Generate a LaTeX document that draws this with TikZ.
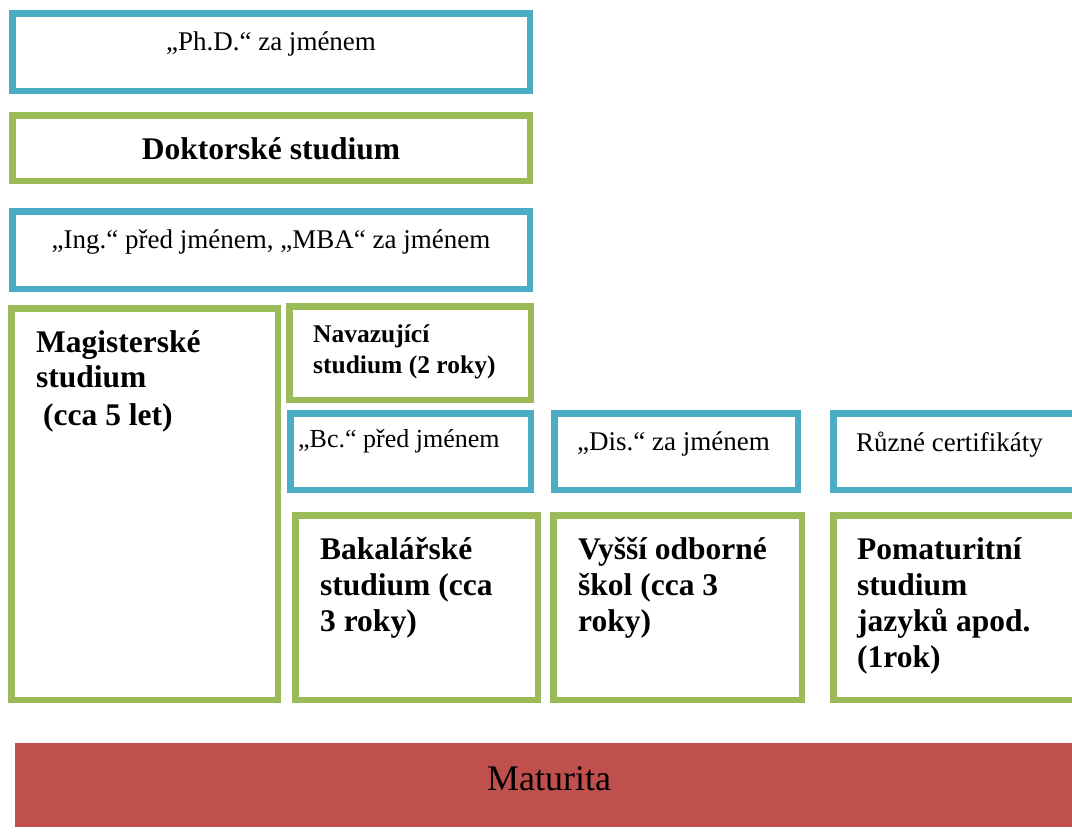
\documentclass[tikz,border=0pt]{standalone}
\usepackage{fontspec}
\setmainfont{Liberation Serif}
\definecolor{aqua}{HTML}{4BACC6}
\definecolor{olivegr}{HTML}{9BBB59}
\definecolor{brick}{HTML}{C0504D}
\tikzset{
  bluebox/.style={draw=aqua,line width=6.5pt},
  greenbox/.style={draw=olivegr,line width=6.5pt},
  regtxt/.style={font=\fontsize{27}{32}\selectfont,inner sep=0pt},
  smalltxt/.style={font=\fontsize{26}{31}\selectfont,inner sep=0pt},
  bigtxt/.style={font=\fontsize{31.5}{36}\selectfont\bfseries,inner sep=0pt,anchor=base west},
  midtxt/.style={font=\fontsize{25.5}{30}\selectfont\bfseries,inner sep=0pt,anchor=base west},
}
\begin{document}
\begin{tikzpicture}[x=1pt,y=-1pt]
\useasboundingbox (0,0) rectangle (1072,831);
\clip (0,0) rectangle (1072,831);
\fill[white] (0,0) rectangle (1072,831);
% boxes (outer edges inset by half the line width)
\draw[bluebox]  (12.25,13.25) rectangle (529.75,90.75);
\draw[greenbox] (12.25,115.25) rectangle (529.75,180.75);
\draw[bluebox]  (12.25,211.25) rectangle (529.75,288.75);
\draw[greenbox] (11.25,308.25) rectangle (277.75,699.75);
\draw[greenbox] (289.25,306.25) rectangle (530.75,399.75);
\draw[bluebox]  (290.25,413.25) rectangle (530.75,489.75);
\draw[bluebox]  (554.25,413.25) rectangle (797.75,489.75);
\draw[bluebox]  (833.25,413.25) rectangle (1081.75,489.75);
\draw[greenbox] (295.25,515.25) rectangle (537.75,699.75);
\draw[greenbox] (553.25,515.25) rectangle (801.75,699.75);
\draw[greenbox] (833.25,515.25) rectangle (1081.75,699.75);
\fill[brick] (15,743) rectangle (1085,827);
% texts
\node[regtxt,anchor=base] (phd) at (271,50) {„Ph.D.“ za jménem};
\node[bigtxt,anchor=base] (dok) at (271,159) {Doktorské studium};
\node[regtxt,anchor=base] (ing) at (271,248) {„Ing.“ před jménem, „MBA“ za jménem};
\node[bigtxt] (mag1) at (36,352) {Magisterské};
\node[bigtxt] (mag2) at (36,387) {studium};
\node[bigtxt] (mag3) at (43,425) {(cca 5 let)};
\node[midtxt] (nav1) at (313,342) {Navazující};
\node[midtxt] (nav2) at (313,373) {studium (2 roky)};
\node[smalltxt,anchor=base west] (bc) at (298,447) {„Bc.“ před jménem};
\node[regtxt,anchor=base west] (dis) at (577,450) {„Dis.“ za jménem};
\node[regtxt,anchor=base west] (ruz) at (856,451) {Různé certifikáty};
\node[bigtxt] (bak1) at (320,559) {Bakalářské};
\node[bigtxt] (bak2) at (320,595) {studium (cca};
\node[bigtxt] (bak3) at (320,631) {3 roky)};
\node[bigtxt] (vys1) at (578,559) {Vyšší odborné};
\node[bigtxt] (vys2) at (578,595) {škol (cca 3};
\node[bigtxt] (vys3) at (578,631) {roky)};
\node[bigtxt] (pom1) at (857,559) {Pomaturitní};
\node[bigtxt] (pom2) at (857,595) {studium};
\node[bigtxt] (pom3) at (857,631) {jazyků apod.};
\node[bigtxt] (pom4) at (857,667) {(1rok)};
\node[font=\fontsize{36}{40}\selectfont,inner sep=0pt,anchor=base] (mat) at (549,790) {Maturita};
\end{tikzpicture}
\end{document}
